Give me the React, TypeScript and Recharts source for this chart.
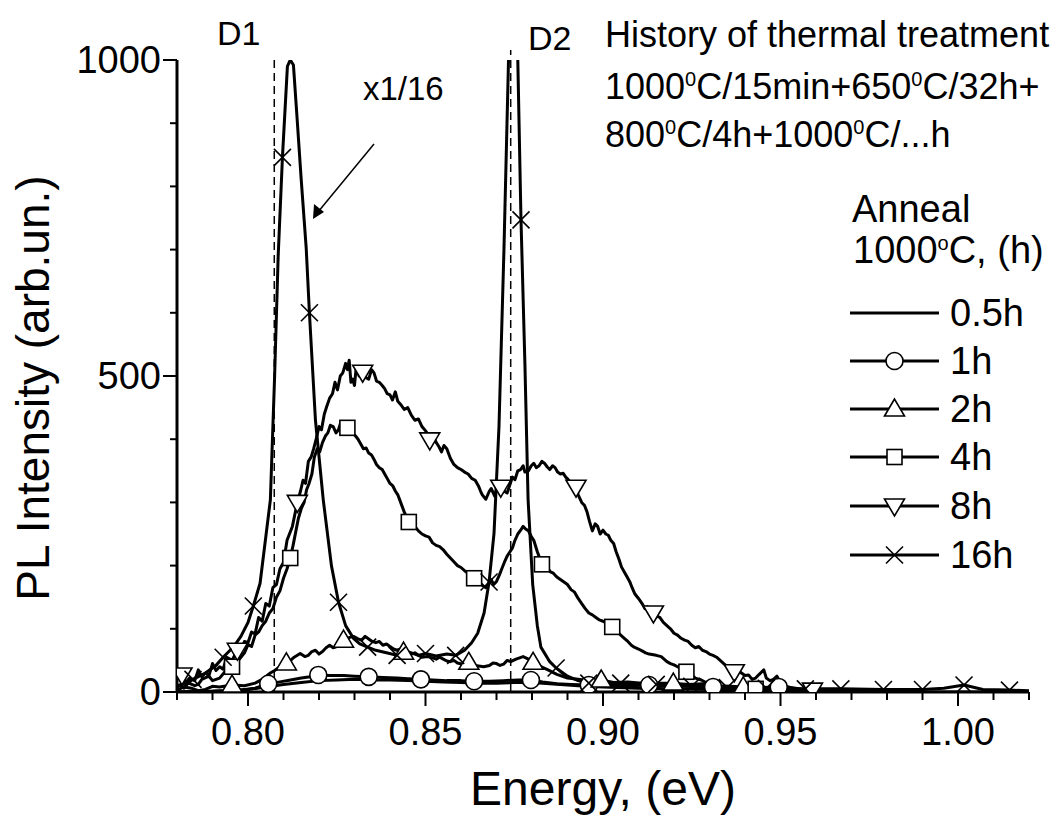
import React from "react";
import { LineChart, Line, XAxis, YAxis, ReferenceLine, Customized } from "recharts";

type Pt = [number, number];

const energyTicks = [
  0.78, 0.79, 0.8, 0.81, 0.82, 0.83, 0.84, 0.85, 0.86, 0.87, 0.88, 0.89, 0.9,
  0.91, 0.92, 0.93, 0.94, 0.95, 0.96, 0.97, 0.98, 0.99, 1.0, 1.01, 1.02,
];
const energyLabels = [0.8, 0.85, 0.9, 0.95, 1.0];
const intensityTicks = [0, 100, 200, 300, 400, 500, 600, 700, 800, 900, 1000];
const intensityLabels = [0, 500, 1000];

const lineD1 = 0.8074;
const lineD2 = 0.874;

// PL spectra, energy (eV) vs intensity (arb.un.)
const anneal05h: Pt[] = [
  [0.78, 0], [0.795, 2], [0.8, 4], [0.805, 8], [0.81, 12], [0.815, 15], [0.82, 18],
  [0.825, 19], [0.83, 20], [0.835, 19], [0.84, 19], [0.845, 18], [0.85, 17], [0.855, 16],
  [0.86, 15], [0.865, 14], [0.87, 14], [0.875, 15], [0.88, 15], [0.885, 13], [0.89, 11],
  [0.895, 9], [0.9, 8], [0.91, 6], [0.92, 5], [0.93, 4], [0.94, 3], [0.95, 2], [0.96, 1],
  [0.98, 0], [1.0, 0], [1.02, 0],
];

const anneal1h: Pt[] = [
  [0.78, 0], [0.79, 1], [0.798, 3], [0.802, 6], [0.8057, 13], [0.809, 16], [0.812, 19],
  [0.815, 22], [0.8175, 24], [0.8198, 27], [0.823, 26], [0.827, 26], [0.83, 25], [0.834, 24],
  [0.838, 23], [0.842, 22], [0.845, 21], [0.8487, 20], [0.852, 19], [0.856, 18], [0.86, 18],
  [0.8637, 17], [0.868, 17], [0.872, 18], [0.876, 19], [0.8797, 19], [0.883, 16], [0.887, 13],
  [0.891, 12], [0.896, 11], [0.902, 10], [0.908, 10], [0.913, 11], [0.92, 9], [0.926, 9],
  [0.931, 8], [0.938, 7], [0.944, 7], [0.9495, 8], [0.955, 4], [0.96, 2], [0.97, 0],
];
const marks1h = [0.8057, 0.8198, 0.834, 0.8487, 0.8637, 0.8797, 0.896, 0.913, 0.931, 0.9495];

const anneal2h: Pt[] = [
  [0.78, 3], [0.782, 8], [0.784, 6], [0.786, 2], [0.788, 4], [0.79, 9], [0.792, 8],
  [0.7955, 11], [0.799, 10], [0.802, 14], [0.804, 20], [0.8063, 30], [0.8075, 34],
  [0.8085, 38], [0.8097, 42], [0.8108, 46], [0.812, 50], [0.813, 55], [0.8147, 61],
  [0.816, 56], [0.817, 58], [0.818, 64], [0.819, 66], [0.82, 60], [0.821, 64], [0.822, 70],
  [0.823, 74], [0.824, 70], [0.825, 72], [0.826, 78], [0.8269, 82], [0.8285, 86], [0.8297, 88],
  [0.831, 84], [0.832, 82], [0.833, 88], [0.834, 84], [0.835, 80], [0.836, 78], [0.837, 80],
  [0.838, 74], [0.839, 76], [0.84, 72], [0.841, 68], [0.842, 66], [0.843, 68], [0.8438, 63],
  [0.845, 62], [0.846, 60], [0.847, 62], [0.848, 58], [0.849, 55], [0.8506, 56], [0.852, 54],
  [0.853, 52], [0.854, 55], [0.855, 52], [0.856, 49], [0.857, 48], [0.858, 50], [0.859, 46],
  [0.8605, 44], [0.8622, 47], [0.864, 42], [0.8664, 40], [0.868, 42], [0.869, 46], [0.87, 45],
  [0.871, 42], [0.872, 44], [0.873, 50], [0.874, 48], [0.8755, 52], [0.8775, 56], [0.879, 52],
  [0.8803, 47], [0.8815, 44], [0.8825, 40], [0.8845, 35], [0.887, 28], [0.89, 22], [0.893, 20],
  [0.896, 18], [0.8995, 19], [0.903, 15], [0.907, 16], [0.911, 14], [0.915, 14], [0.9198, 14],
  [0.924, 12], [0.928, 13], [0.932, 10], [0.936, 9], [0.9395, 8], [0.945, 6], [0.95, 3],
  [0.96, 1], [0.98, 0],
];
const marks2h = [0.7955, 0.8108, 0.8269, 0.8438, 0.8622, 0.8803, 0.8995, 0.9198, 0.9395];

const anneal4h: Pt[] = [
  [0.78, 8], [0.781, 12], [0.782, 6], [0.783, 15], [0.785, 10], [0.786, 12], [0.787, 20],
  [0.789, 25], [0.79, 18], [0.792, 22], [0.7935, 32], [0.7955, 40], [0.797, 48], [0.798, 55],
  [0.799, 62], [0.8, 75], [0.801, 72], [0.802, 90], [0.803, 95], [0.804, 105], [0.805, 112],
  [0.806, 125], [0.807, 132], [0.808, 150], [0.809, 160], [0.81, 180], [0.811, 195],
  [0.8119, 212], [0.8127, 232], [0.8135, 255], [0.8142, 275], [0.815, 290], [0.8158, 300],
  [0.8165, 320], [0.8172, 330], [0.818, 345], [0.8187, 372], [0.8195, 385], [0.8202, 380],
  [0.821, 395], [0.8218, 405], [0.8225, 410], [0.8232, 422], [0.824, 420], [0.8248, 410],
  [0.8255, 415], [0.8262, 428], [0.827, 425], [0.828, 418], [0.8288, 420], [0.8295, 410],
  [0.8303, 405], [0.831, 400], [0.8318, 392], [0.8325, 385], [0.8333, 386], [0.834, 378],
  [0.8348, 375], [0.8355, 368], [0.8362, 360], [0.837, 355], [0.8378, 352], [0.8385, 345],
  [0.8392, 338], [0.84, 330], [0.8408, 326], [0.8415, 318], [0.8422, 312], [0.843, 300],
  [0.844, 285], [0.8453, 269], [0.846, 266], [0.847, 262], [0.848, 255], [0.849, 250],
  [0.85, 247], [0.851, 245], [0.852, 236], [0.853, 232], [0.854, 230], [0.855, 225],
  [0.856, 218], [0.857, 212], [0.858, 206], [0.859, 200], [0.86, 197], [0.861, 192],
  [0.8625, 186], [0.8637, 180], [0.8647, 176], [0.8655, 172], [0.8662, 168], [0.867, 165],
  [0.8678, 172], [0.8685, 178], [0.8692, 170], [0.87, 175], [0.8708, 185], [0.8715, 195],
  [0.8722, 205], [0.873, 215], [0.8738, 222], [0.8745, 228], [0.8752, 240], [0.876, 250],
  [0.8768, 256], [0.8775, 262], [0.8782, 258], [0.879, 255], [0.8798, 246], [0.8805, 240],
  [0.8815, 222], [0.8828, 202], [0.8837, 200], [0.8845, 195], [0.8852, 190], [0.886, 188],
  [0.887, 182], [0.888, 178], [0.889, 174], [0.89, 170], [0.891, 162], [0.892, 158],
  [0.893, 148], [0.894, 140], [0.895, 132], [0.896, 125], [0.897, 122], [0.898, 118],
  [0.899, 114], [0.9, 112], [0.9013, 108], [0.9026, 103], [0.904, 95], [0.905, 90], [0.906, 85],
  [0.907, 80], [0.908, 74], [0.9088, 71], [0.91, 68], [0.911, 65], [0.912, 62], [0.913, 60],
  [0.915, 58], [0.9164, 56], [0.918, 48], [0.919, 45], [0.92, 43], [0.921, 40], [0.9222, 36],
  [0.9235, 32], [0.925, 26], [0.926, 22], [0.9277, 19], [0.929, 15], [0.93, 12], [0.932, 10],
  [0.934, 8], [0.936, 7], [0.938, 6], [0.94, 7], [0.943, 5], [0.946, 3], [0.95, 2], [0.96, 0],
];
const marks4h = [0.7955, 0.8119, 0.828, 0.8453, 0.8637, 0.8828, 0.9026, 0.9235, 0.943];

const anneal8h: Pt[] = [
  [0.78, 20], [0.7814, 27], [0.7825, 15], [0.7835, 22], [0.785, 18], [0.786, 35], [0.787, 24],
  [0.788, 30], [0.789, 26], [0.79, 45], [0.791, 34], [0.792, 40], [0.793, 36], [0.794, 55],
  [0.7955, 50], [0.797, 66], [0.798, 62], [0.799, 80], [0.8, 78], [0.801, 95], [0.802, 92],
  [0.803, 118], [0.804, 112], [0.805, 140], [0.806, 136], [0.807, 165], [0.808, 170],
  [0.809, 195], [0.81, 205], [0.811, 240], [0.8125, 262], [0.8139, 300], [0.8148, 318],
  [0.8155, 335], [0.8162, 330], [0.817, 365], [0.8178, 372], [0.8185, 385], [0.8192, 400],
  [0.82, 420], [0.8207, 415], [0.8215, 440], [0.8222, 452], [0.823, 465], [0.8238, 472],
  [0.8245, 490], [0.8252, 478], [0.826, 500], [0.8267, 505], [0.8275, 520], [0.828, 510],
  [0.8285, 525], [0.829, 490], [0.8295, 495], [0.83, 485], [0.8305, 515], [0.8313, 500],
  [0.8323, 506], [0.833, 498], [0.834, 495], [0.8348, 510], [0.8355, 505], [0.8362, 492],
  [0.837, 490], [0.8378, 485], [0.8385, 480], [0.8392, 472], [0.84, 470], [0.8407, 462],
  [0.8415, 475], [0.8422, 460], [0.843, 455], [0.844, 447], [0.845, 450], [0.846, 438],
  [0.847, 430], [0.848, 432], [0.849, 420], [0.8502, 412], [0.8512, 399], [0.852, 408],
  [0.853, 395], [0.8538, 388], [0.8545, 380], [0.8552, 390], [0.856, 385], [0.857, 370],
  [0.858, 360], [0.859, 355], [0.86, 352], [0.861, 348], [0.862, 345], [0.863, 338],
  [0.864, 335], [0.865, 325], [0.8655, 318], [0.866, 312], [0.867, 305], [0.868, 318],
  [0.8685, 322], [0.8695, 310], [0.8705, 330], [0.8712, 324], [0.872, 318], [0.873, 315],
  [0.874, 332], [0.8745, 340], [0.8752, 336], [0.876, 350], [0.8768, 352], [0.8775, 358],
  [0.878, 348], [0.879, 350], [0.8798, 358], [0.8805, 362], [0.8812, 355], [0.882, 358],
  [0.8828, 365], [0.8835, 362], [0.8843, 356], [0.885, 352], [0.8858, 358], [0.8865, 355],
  [0.8872, 348], [0.888, 345], [0.8888, 346], [0.8895, 340], [0.8902, 336], [0.891, 330],
  [0.8917, 327], [0.8924, 324], [0.893, 312], [0.894, 300], [0.8948, 295], [0.8955, 285],
  [0.8962, 270], [0.897, 255], [0.8978, 266], [0.8985, 262], [0.8992, 250], [0.9, 256],
  [0.9008, 250], [0.9015, 248], [0.9022, 240], [0.903, 235], [0.9037, 222], [0.9045, 210],
  [0.9052, 198], [0.906, 190], [0.9068, 182], [0.9075, 175], [0.9082, 165], [0.909, 155],
  [0.91, 148], [0.911, 140], [0.9118, 132], [0.9125, 135], [0.9133, 128], [0.9142, 125],
  [0.915, 120], [0.916, 118], [0.917, 110], [0.918, 105], [0.919, 100], [0.92, 93], [0.921, 90],
  [0.922, 85], [0.923, 82], [0.924, 80], [0.925, 74], [0.926, 70], [0.927, 72], [0.928, 66],
  [0.929, 64], [0.93, 60], [0.931, 58], [0.932, 55], [0.933, 50], [0.934, 45], [0.9355, 38],
  [0.937, 32], [0.938, 34], [0.939, 30], [0.94, 26], [0.941, 27], [0.942, 20], [0.943, 22],
  [0.944, 28], [0.9453, 35], [0.946, 22], [0.947, 18], [0.948, 20], [0.949, 25], [0.95, 14],
  [0.951, 10], [0.953, 7], [0.955, 5], [0.957, 4], [0.959, 3], [0.97, 0],
];
const marks8h = [0.7814, 0.797, 0.8139, 0.8323, 0.8512, 0.8712, 0.8924, 0.9142, 0.937, 0.959];

const anneal16h: Pt[] = [
  [0.78, 8], [0.7845, 20], [0.788, 30], [0.791, 42], [0.793, 55], [0.796, 72], [0.798, 88],
  [0.8, 110], [0.8015, 136], [0.8034, 172], [0.8063, 304], [0.8075, 500], [0.8085, 690],
  [0.8097, 846], [0.8111, 990], [0.8119, 1000], [0.8128, 992], [0.8138, 910], [0.815, 810],
  [0.8164, 702], [0.8173, 600], [0.819, 430], [0.8212, 304], [0.8235, 200], [0.8255, 142],
  [0.8275, 105], [0.8297, 85], [0.8315, 76], [0.8337, 71], [0.836, 66], [0.839, 62],
  [0.842, 58], [0.845, 64], [0.848, 58], [0.85, 61], [0.853, 57], [0.856, 60], [0.8585, 58],
  [0.861, 66], [0.863, 78], [0.8647, 93], [0.8665, 125], [0.8679, 174], [0.8693, 251],
  [0.8707, 420], [0.8721, 700], [0.8733, 980], [0.8747, 1350], [0.876, 1000], [0.8769, 747],
  [0.878, 520], [0.8789, 304], [0.8802, 170], [0.8815, 105], [0.8825, 71], [0.885, 48],
  [0.8868, 38], [0.89, 25], [0.893, 18], [0.896, 14], [0.9, 13], [0.905, 14], [0.91, 12],
  [0.915, 12], [0.925, 9], [0.935, 7], [0.946, 6], [0.957, 5], [0.967, 5], [0.979, 4],
  [0.99, 4], [0.996, 6], [1.0017, 11], [1.007, 4], [1.0145, 3], [1.02, 2],
];
const marks16h = [
  0.7845, 0.793, 0.8015, 0.8097, 0.8173, 0.8255, 0.8337, 0.842, 0.85, 0.8585, 0.8679, 0.8769,
  0.8868, 0.896, 0.905, 0.915, 0.925, 0.935, 0.946, 0.957, 0.967, 0.979, 0.99, 1.0017, 1.0145,
];

type Shape = "none" | "circle" | "up" | "square" | "down" | "cross";

const series: { name: string; points: Pt[]; marks: number[]; shape: Shape }[] = [
  { name: "0.5h", points: anneal05h, marks: [], shape: "none" },
  { name: "1h", points: anneal1h, marks: marks1h, shape: "circle" },
  { name: "2h", points: anneal2h, marks: marks2h, shape: "up" },
  { name: "4h", points: anneal4h, marks: marks4h, shape: "square" },
  { name: "8h", points: anneal8h, marks: marks8h, shape: "down" },
  { name: "16h", points: anneal16h, marks: marks16h, shape: "cross" },
];

const FONT = "'Liberation Sans', Arial, sans-serif";

function Marker({ shape, cx, cy }: { shape: Shape; cx: number; cy: number }) {
  const p = { fill: "#fff", stroke: "#000", strokeWidth: 1.6 };
  if (shape === "circle") return <circle cx={cx} cy={cy} r={8.5} {...p} />;
  if (shape === "square") return <rect x={cx - 7.5} y={cy - 7.5} width={15} height={15} {...p} />;
  if (shape === "up")
    return <polygon points={`${cx},${cy - 10} ${cx - 10},${cy + 7} ${cx + 10},${cy + 7}`} {...p} />;
  if (shape === "down")
    return <polygon points={`${cx - 10},${cy - 7} ${cx + 10},${cy - 7} ${cx},${cy + 10}`} {...p} />;
  if (shape === "cross")
    return (
      <g stroke="#000" strokeWidth={1.6}>
        <line x1={cx - 8.5} y1={cy - 8.5} x2={cx + 8.5} y2={cy + 8.5} />
        <line x1={cx - 8.5} y1={cy + 8.5} x2={cx + 8.5} y2={cy - 8.5} />
      </g>
    );
  return null;
}

const EnergyTick = (props: any) => {
  const { x, y, payload } = props;
  const major = energyLabels.some((v) => Math.abs(v - payload.value) < 1e-6);
  return (
    <g>
      <line x1={x} y1={y} x2={x} y2={y + (major ? 14 : 8)} stroke="#000" strokeWidth={2} />
      {major && (
        <text x={x} y={y + 53} textAnchor="middle" fontSize={38} fontFamily={FONT} fill="#000">
          {payload.value.toFixed(2)}
        </text>
      )}
    </g>
  );
};

const IntensityTick = (props: any) => {
  const { x, y, payload } = props;
  const major = intensityLabels.includes(payload.value);
  return (
    <g>
      <line x1={x - (major ? 14 : 7)} y1={y} x2={x} y2={y} stroke="#000" strokeWidth={2} />
      {major && (
        <text x={x - 16} y={y + 13} textAnchor="end" fontSize={38} fontFamily={FONT} fill="#000">
          {payload.value}
        </text>
      )}
    </g>
  );
};

// text with superscript pieces: parts alternate normal / superscript
function SupText({ x, y, size, parts }: { x: number; y: number; size: number; parts: string[] }) {
  return (
    <text x={x} y={y} fontSize={size}>
      {parts.map((t, i) =>
        i % 2 === 1 ? (
          <tspan key={i} dy={-13} fontSize={20}>{t}</tspan>
        ) : (
          <tspan key={i} dy={i === 0 ? 0 : 13}>{t}</tspan>
        )
      )}
    </text>
  );
}

function Notes() {
  const rows = [313, 361, 409, 457, 506, 555];
  return (
    <g fontFamily={FONT} fill="#000">
      <text x={217} y={45} fontSize={34}>D1</text>
      <text x={528} y={50} fontSize={34}>D2</text>
      <text x={363} y={100} fontSize={33}>x1/16</text>
      <line x1={374} y1={144} x2={318} y2={212} stroke="#000" strokeWidth={1.5} />
      <polygon points="313,219 314,204 324,212" fill="#000" />
      <text x={605} y={47} fontSize={36}>History of thermal treatment</text>
      <SupText x={605} y={99} size={36} parts={["1000", "0", "C/15min+650", "0", "C/32h+"]} />
      <SupText x={605} y={147} size={36} parts={["800", "0", "C/4h+1000", "0", "C/...h"]} />
      <text x={852} y={222} fontSize={38}>Anneal</text>
      <SupText x={853} y={263} size={38} parts={["1000", "o", "C, (h)"]} />
      {series.map((s, i) => (
        <g key={s.name}>
          <line x1={850} y1={rows[i]} x2={939} y2={rows[i]} stroke="#000" strokeWidth={3} />
          <Marker shape={s.shape} cx={894.5} cy={rows[i]} />
          <text x={950} y={rows[i] + 13} fontSize={38}>{s.name}</text>
        </g>
      ))}
      <text x={603} y={805} fontSize={48} textAnchor="middle">Energy, (eV)</text>
      <text
        x={0}
        y={0}
        fontSize={46}
        textAnchor="middle"
        transform="translate(49,388) rotate(-90)"
      >
        PL Intensity (arb.un.)
      </text>
    </g>
  );
}

export default function App() {
  return (
    <div style={{ position: "absolute", left: 0, top: 0, background: "#fff" }}>
      <LineChart width={1059} height={816} margin={{ top: 60, right: 30, bottom: 0, left: 0 }}>
        <XAxis
          dataKey="e"
          type="number"
          domain={[0.78, 1.02]}
          ticks={energyTicks}
          interval={0}
          height={124}
          tickSize={0}
          tickMargin={0}
          tickLine={false}
          axisLine={{ stroke: "#000", strokeWidth: 3 }}
          tick={<EnergyTick />}
          allowDataOverflow
        />
        <YAxis
          type="number"
          domain={[0, 1000]}
          ticks={intensityTicks}
          interval={0}
          width={177}
          tickSize={0}
          tickMargin={0}
          tickLine={false}
          axisLine={{ stroke: "#000", strokeWidth: 3 }}
          tick={<IntensityTick />}
          allowDataOverflow
        />
        <ReferenceLine x={lineD1} stroke="#000" strokeWidth={1.5} strokeDasharray="8 5" />
        <ReferenceLine
          segment={[{ x: lineD2, y: 0 }, { x: lineD2, y: 1016 }]}
          ifOverflow="visible"
          stroke="#000"
          strokeWidth={1.5}
          strokeDasharray="8 5"
        />
        {series.map((s) => (
          <Line
            key={s.name}
            name={s.name}
            data={s.points.map(([e, v]) => ({ e, v }))}
            dataKey="v"
            type="linear"
            stroke="#000"
            strokeWidth={3}
            strokeLinejoin="round"
            activeDot={false}
            isAnimationActive={false}
            dot={(p: any) =>
              s.marks.includes(p.payload.e) ? (
                <Marker key={`${s.name}-${p.index}`} shape={s.shape} cx={p.cx} cy={p.cy} />
              ) : (
                <g key={`${s.name}-${p.index}`} />
              )
            }
          />
        ))}
        <Customized component={<Notes />} />
      </LineChart>
    </div>
  );
}
